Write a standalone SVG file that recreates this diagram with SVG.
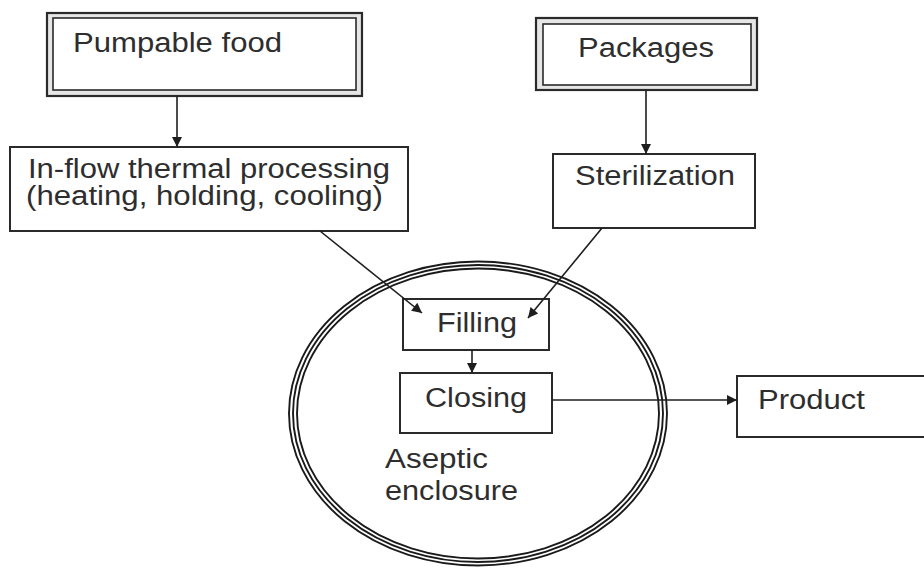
<svg xmlns="http://www.w3.org/2000/svg" width="924" height="569" viewBox="0 0 924 569">
<style>
.box{fill:#fff;stroke:#2a2a2a;stroke-width:2}
.outer{fill:#e6e6e6;stroke:#2a2a2a;stroke-width:2.2}
.inner{fill:#fff;stroke:#2a2a2a;stroke-width:1.6}
.t{font-family:"Liberation Sans",Arial,sans-serif;font-size:27px;fill:#2e2e2e}
.c{fill:none;stroke:#1e1e1e;stroke-width:1.6}
.e{fill:none;stroke:#1a1a1a;stroke-width:1.9}
</style>
<defs>
<marker id="ah" viewBox="0 0 10 10" refX="10" refY="5" markerWidth="13" markerHeight="10" markerUnits="userSpaceOnUse" orient="auto">
<path d="M0,0 L10,5 L0,10 z" fill="#1e1e1e"/>
</marker>
</defs>
<rect width="924" height="569" fill="#fff"/>
<g id="enclosure">
<ellipse class="e" cx="478" cy="413.5" rx="181" ry="145"/>
<ellipse class="e" cx="478" cy="413.5" rx="185" ry="148.5"/>
<ellipse class="e" cx="478" cy="413.5" rx="189" ry="152"/>
<text class="t" x="385" y="468" textLength="103" lengthAdjust="spacingAndGlyphs">Aseptic</text>
<text class="t" x="385" y="500" textLength="133" lengthAdjust="spacingAndGlyphs">enclosure</text>
</g>
<g id="pumpable">
<rect class="outer" x="47" y="13" width="315" height="83"/>
<rect class="inner" x="53" y="18" width="303" height="72"/>
<text class="t" x="73" y="52" textLength="209" lengthAdjust="spacingAndGlyphs">Pumpable food</text>
</g>
<g id="packages">
<rect class="outer" x="536" y="18" width="221" height="72"/>
<rect class="inner" x="543" y="24" width="208" height="61"/>
<text class="t" x="578" y="57" textLength="136" lengthAdjust="spacingAndGlyphs">Packages</text>
</g>
<g id="inflow">
<rect class="box" x="10" y="147" width="398" height="84"/>
<text class="t" x="28" y="178" textLength="362" lengthAdjust="spacingAndGlyphs">In-flow thermal processing</text>
<text class="t" x="26" y="205" textLength="357" lengthAdjust="spacingAndGlyphs">(heating, holding, cooling)</text>
</g>
<g id="sterilization">
<rect class="box" x="553" y="154" width="202" height="74"/>
<text class="t" x="575" y="185" textLength="160" lengthAdjust="spacingAndGlyphs">Sterilization</text>
</g>
<g id="filling">
<rect class="box" x="403" y="299" width="146" height="51"/>
<text class="t" x="437" y="332" textLength="80" lengthAdjust="spacingAndGlyphs">Filling</text>
</g>
<g id="closing">
<rect class="box" x="400" y="373" width="152" height="60"/>
<text class="t" x="425" y="407" textLength="102" lengthAdjust="spacingAndGlyphs">Closing</text>
</g>
<g id="product">
<rect class="box" x="737" y="376" width="200" height="61"/>
<text class="t" x="758" y="409" textLength="107" lengthAdjust="spacingAndGlyphs">Product</text>
</g>
<g id="connectors">
<line class="c" x1="177" y1="96" x2="177" y2="147" marker-end="url(#ah)"/>
<line class="c" x1="646" y1="90" x2="646" y2="154" marker-end="url(#ah)"/>
<line class="c" x1="320" y1="231" x2="422" y2="313" marker-end="url(#ah)"/>
<line class="c" x1="602" y1="228" x2="528" y2="318" marker-end="url(#ah)"/>
<line class="c" x1="472" y1="350" x2="472" y2="373" marker-end="url(#ah)"/>
<line class="c" x1="552" y1="400" x2="737" y2="400" marker-end="url(#ah)"/>
</g>
</svg>
